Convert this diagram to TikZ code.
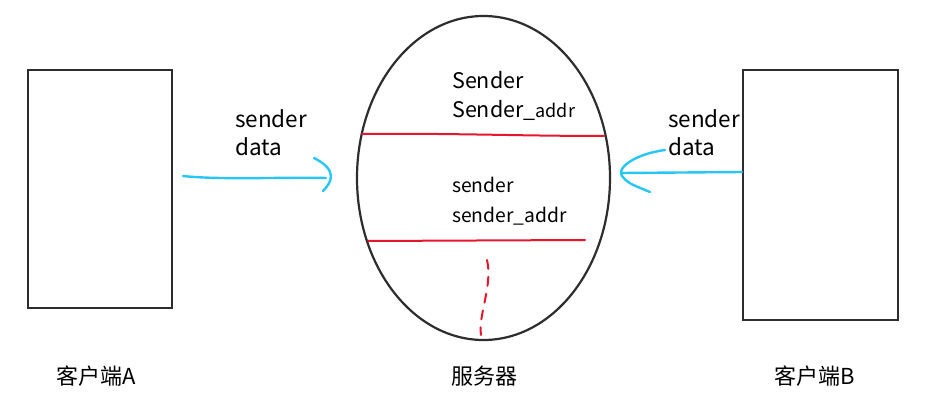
\documentclass[tikz,border=0pt]{standalone}
\usepackage{fontspec}
\setmainfont{Noto Sans CJK SC}
\usetikzlibrary{shapes.geometric}
\definecolor{penblue}{RGB}{40,198,245}
\definecolor{penred}{RGB}{232,22,44}
\definecolor{pengray}{RGB}{45,45,45}

\begin{document}
\begin{tikzpicture}[x=1pt, y=-1pt,
  box/.style = {draw=pengray, line width=2.2pt, inner sep=0pt},
  txt/.style = {anchor=base west, inner sep=0pt, font=\fontsize{22.5}{26}\selectfont},
  big/.style = {txt, font=\fontsize{21.5}{26}\selectfont},
  small/.style = {txt, font=\fontsize{19.3}{23}\selectfont},
  label/.style = {inner sep=0pt, font=\fontsize{22}{26}\selectfont},
  blue pen/.style = {draw=penblue, line width=2.4pt, line cap=round, line join=round},
  red pen/.style = {draw=penred, line width=2pt, line cap=round}]

  \useasboundingbox (0,0) rectangle (937,417);

  \node[box, rectangle, minimum width=144pt, minimum height=238pt] (clientA) at (100,189) {};
  \node[box, rectangle, minimum width=155pt, minimum height=250pt] (clientB) at (820.5,195) {};
  \node[box, ellipse, minimum width=253pt, minimum height=324pt] (server) at (483.5,178) {};

  % data sent by the clients
  \node[txt] (senderA) at (235,128) {sender};
  \node[txt] (dataA) at (235,156) {data};
  \node[txt] (senderB) at (668,128) {sender};
  \node[txt] (dataB) at (668,156) {data};

  % records kept by the server
  \node[big] (rec1) at (452,89) {Sender};
  \node[big] (rec1addr) at (452,118) {Sender\_{\fontsize{18}{22}\selectfont addr}};
  \node[small] (rec2) at (452,193) {sender};
  \node[small] (rec2addr) at (452,222) {sender\_addr};

  \node[label] (nameA) at (96,376) {客户端A};
  \node[label] (nameS) at (484,376) {服务器};
  \node[label] (nameB) at (815,376) {客户端B};

  % red separators
  \coordinate (sep1l) at (362,134);
  \coordinate (sep1r) at (604,136);
  \coordinate (sep2l) at (368,241);
  \coordinate (sep2r) at (585,240);
  \draw[red pen] (sep1l) .. controls (450,133) and (520,136) .. (sep1r);
  \draw[red pen] (sep2l) -- (sep2r);
  \coordinate (moreT) at (487,260);
  \coordinate (moreB) at (481,335);
  \draw[red pen, dash pattern=on 9pt off 8pt] (moreT) .. controls (493,285) and (478,315) .. (moreB);

  % arrows
  \coordinate (arrA) at (183,176);
  \coordinate (arrAend) at (326,178);
  \draw[blue pen] (arrA) .. controls (220,180) and (280,177) .. (arrAend);
  \draw[blue pen] (314,158) .. controls (338,170) and (332,182) .. (323,191);
  \coordinate (arrBend) at (621,173);
  \draw[blue pen] (clientB.west |- 0,172) -- (arrBend);
  \draw[blue pen] (665,150) .. controls (635,154) and (616,168) .. (622,176)
    .. controls (628,183) .. (650,192);
\end{tikzpicture}
\end{document}
